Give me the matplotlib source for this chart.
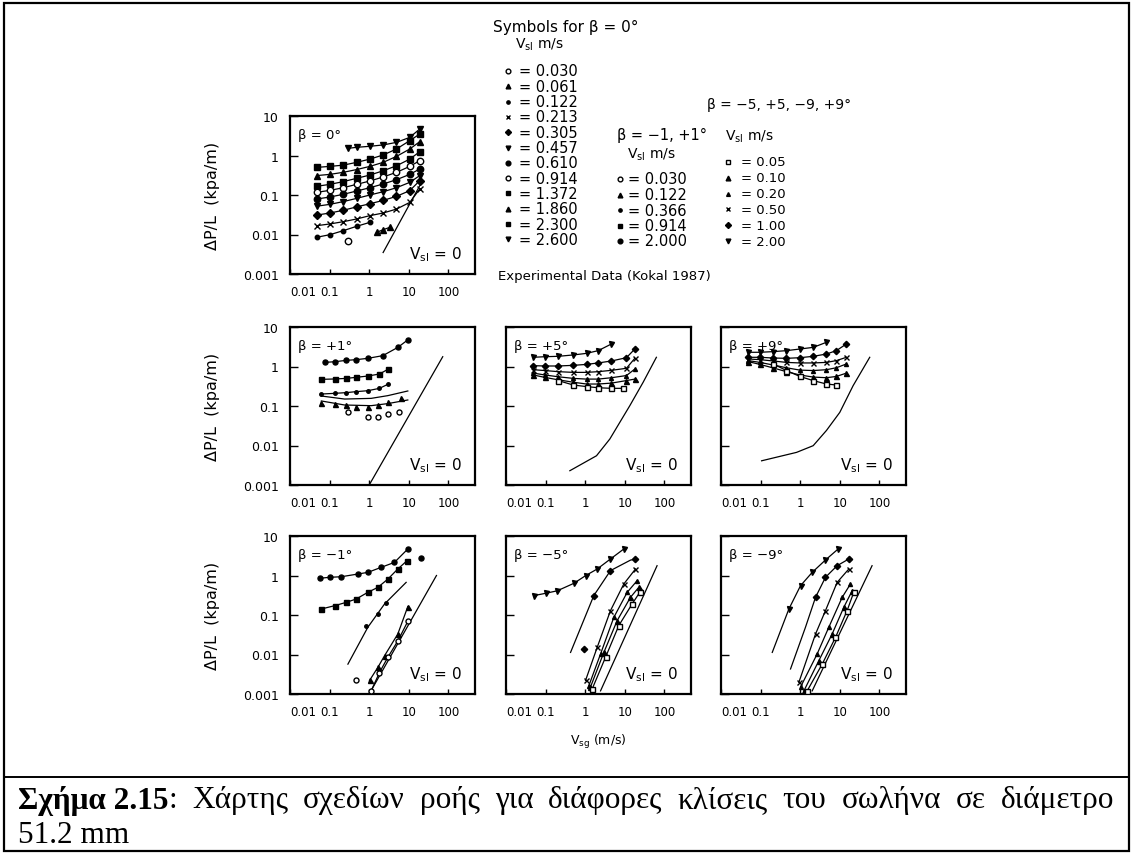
import matplotlib
matplotlib.use('Agg')
import matplotlib.pyplot as plt
from matplotlib.ticker import FixedLocator, FixedFormatter, NullLocator
from matplotlib.patches import Rectangle

# ---- data (Vsg in m/s, dP/L in kPa/m) ----

# beta = 0 deg
b0_vsl = [2.600, 2.300, 1.860, 1.372, 0.914, 0.610, 0.457, 0.305, 0.213, 0.122, 0.061, 0.030]
b0_vsg = [[0.296, 0.48, 1.04, 2.25, 4.89, 10.6, 18.9],
          [0.047, 0.102, 0.221, 0.48, 1.04, 2.25, 4.89, 10.6, 18.9],
          [0.047, 0.102, 0.221, 0.48, 1.04, 2.25, 4.89, 10.6, 18.9],
          [0.047, 0.102, 0.221, 0.48, 1.04, 2.25, 4.89, 10.6, 18.9],
          [0.047, 0.102, 0.221, 0.48, 1.04, 2.25, 4.89, 10.6, 18.9],
          [0.047, 0.102, 0.221, 0.48, 1.04, 2.25, 4.89, 10.6, 18.9],
          [0.047, 0.102, 0.221, 0.48, 1.04, 2.25, 4.89, 10.6, 18.9],
          [0.047, 0.102, 0.221, 0.48, 1.04, 2.25, 4.89, 10.6, 18.9],
          [0.047, 0.102, 0.221, 0.48, 1.04, 2.25, 4.89, 10.6, 18.9],
          [0.047, 0.102, 0.221, 0.48, 1.04],
          [1.53, 2.25, 3.32],
          [0.296]]
b0_dpl = [[1.52, 1.61, 1.71, 1.85, 2.15, 2.88, 4.69],
          [0.50, 0.53, 0.57, 0.67, 0.81, 1.03, 1.46, 2.38, 3.50],
          [0.31, 0.333, 0.375, 0.44, 0.53, 0.67, 0.95, 1.46, 2.24],
          [0.166, 0.186, 0.218, 0.264, 0.32, 0.41, 0.55, 0.81, 1.25],
          [0.117, 0.131, 0.153, 0.186, 0.226, 0.286, 0.375, 0.53, 0.74],
          [0.079, 0.089, 0.104, 0.126, 0.153, 0.19, 0.244, 0.333, 0.455],
          [0.052, 0.058, 0.068, 0.082, 0.1, 0.121, 0.153, 0.209, 0.31],
          [0.031, 0.035, 0.041, 0.050, 0.060, 0.073, 0.0925, 0.129, 0.231],
          [0.0167, 0.0185, 0.0211, 0.0247, 0.030, 0.035, 0.044, 0.065, 0.142],
          [0.0085, 0.0099, 0.0125, 0.0161, 0.0203],
          [0.0113, 0.0132, 0.0152],
          [0.0070]]
b0_joined = [True] * 11 + [False]
b0_zero_vsg = [2.25, 18.9]
b0_zero_dpl = [0.0035, 0.172]

# beta = +1 deg
p1_vsl = [2.000, 0.914, 0.366, 0.122, 0.030]
p1_vsg = [[0.075, 0.134, 0.263, 0.47, 0.925, 2.2, 5.3, 9.4],
          [0.062, 0.134, 0.263, 0.47, 0.925, 1.82, 2.96],
          [0.062, 0.134, 0.263, 0.47, 0.925, 1.82, 2.96],
          [0.062, 0.134, 0.263, 0.47, 0.925, 1.65, 2.96, 6.41],
          [0.29, 0.925, 1.65, 2.96, 5.82]]
p1_dpl = [[1.27, 1.32, 1.43, 1.49, 1.61, 1.88, 3.05, 4.7],
          [0.473, 0.483, 0.50, 0.532, 0.574, 0.645, 0.848],
          [0.201, 0.209, 0.218, 0.231, 0.244, 0.28, 0.354],
          [0.117, 0.112, 0.106, 0.096, 0.096, 0.106, 0.124, 0.163],
          [0.069, 0.054, 0.053, 0.061, 0.069]]
p1_joined = [True, True, True, False, False]
p1_fit_vsg = [[0.062, 0.239, 1.12, 2.96, 9.44], [0.062, 0.239, 1.12, 2.96, 9.44]]
p1_fit_dpl = [[0.179, 0.150, 0.156, 0.183, 0.240], [0.134, 0.106, 0.102, 0.115, 0.142]]
p1_zero_vsg = [1.0, 72]
p1_zero_dpl = [0.001, 1.77]

# beta = +5 deg
p5_vsl = [2.00, 1.00, 0.50, 0.20, 0.10, 0.05]
p5_vsg = [[0.049, 0.096, 0.208, 0.50, 1.08, 2.13, 4.61],
          [0.049, 0.096, 0.208, 0.50, 1.08, 2.13, 4.61, 11.0, 17.9],
          [0.049, 0.096, 0.208, 0.50, 1.08, 2.13, 4.61, 11.0, 17.9],
          [0.049, 0.096, 0.208, 0.50, 1.08, 2.13, 4.61, 11.0, 17.9],
          [0.049, 0.096, 0.208, 0.50, 1.08, 2.13, 4.61, 11.0, 17.9],
          [0.208, 0.50, 1.08, 2.13, 4.61, 9.1]]
p5_dpl = [[1.71, 1.77, 1.81, 1.96, 2.15, 2.52, 3.72],
          [1.05, 1.03, 1.03, 1.07, 1.13, 1.23, 1.38, 1.67, 2.77],
          [0.83, 0.79, 0.74, 0.71, 0.71, 0.74, 0.80, 0.90, 1.61],
          [0.68, 0.61, 0.55, 0.50, 0.48, 0.48, 0.52, 0.59, 0.86],
          [0.61, 0.53, 0.46, 0.40, 0.36, 0.36, 0.38, 0.44, 0.48],
          [0.44, 0.34, 0.31, 0.29, 0.28, 0.28]]
p5_joined = [True] * 6
p5_zero_vsg = [0.41, 1.93, 4.19, 7.48, 13.4, 29.0, 62.8]
p5_zero_dpl = [0.0023, 0.0055, 0.0146, 0.0385, 0.102, 0.397, 1.71]

# beta = +9 deg
p9_vsl = [2.00, 1.00, 0.50, 0.20, 0.10, 0.05]
p9_vsg = [[0.049, 0.096, 0.208, 0.45, 0.98, 2.13, 4.61],
          [0.049, 0.096, 0.208, 0.45, 0.98, 2.13, 4.61, 8.2, 14.7],
          [0.049, 0.096, 0.208, 0.45, 0.98, 2.13, 4.61, 8.2, 14.7],
          [0.049, 0.096, 0.208, 0.45, 0.98, 2.13, 4.61, 8.2, 14.7],
          [0.049, 0.096, 0.208, 0.45, 0.98, 2.13, 4.61, 8.2, 14.7],
          [0.208, 0.45, 0.98, 2.13, 4.61, 8.2]]
p9_dpl = [[2.29, 2.29, 2.38, 2.52, 2.77, 3.05, 4.1],
          [1.71, 1.71, 1.64, 1.61, 1.67, 1.81, 2.07, 2.52, 3.72],
          [1.55, 1.49, 1.38, 1.27, 1.23, 1.23, 1.27, 1.41, 1.71],
          [1.41, 1.27, 1.09, 0.93, 0.81, 0.79, 0.83, 0.93, 1.16],
          [1.33, 1.13, 0.92, 0.74, 0.61, 0.54, 0.52, 0.56, 0.68],
          [1.16, 0.79, 0.56, 0.44, 0.36, 0.34]]
p9_joined = [True] * 6
p9_zero_vsg = [0.106, 0.81, 2.13, 4.6, 10.0, 21.7, 57]
p9_zero_dpl = [0.0041, 0.0067, 0.0099, 0.024, 0.069, 0.327, 1.71]

# beta = -1 deg
m1_vsl = [2.000, 0.914, 0.366, 0.122, 0.030, 2.000, 0.030]
m1_vsg = [[0.056, 0.1, 0.197, 0.518, 0.925, 2.01, 4.35, 9.44],
          [0.062, 0.134, 0.263, 0.47, 0.925, 1.65, 2.96, 5.28, 9.08],
          [0.84, 1.65, 2.68],
          [1.02, 1.65, 2.44, 5.28, 9.44],
          [1.12, 1.82, 2.96, 5.28, 9.44],
          [20.5],
          [0.47]]
m1_dpl = [[0.85, 0.90, 0.93, 1.09, 1.20, 1.61, 2.15, 4.69],
          [0.142, 0.172, 0.209, 0.254, 0.375, 0.50, 0.81, 1.46, 2.38],
          [0.054, 0.106, 0.197],
          [0.0022, 0.0047, 0.0093, 0.033, 0.163],
          [0.0012, 0.0035, 0.0085, 0.022, 0.069],
          [2.77],
          [0.0022]]
m1_joined = [True, True, False, True, True, False, False]
m1_fit_vsg = [[0.29, 0.925, 2.44, 8.57]]
m1_fit_dpl = [[0.0057, 0.049, 0.19, 0.67]]
m1_zero_vsg = [1.0, 50]
m1_zero_dpl = [0.001, 1.0]

# beta = -5 deg
m5_vsl = [2.00, 1.00, 0.50, 0.20, 0.10, 0.05, 1.00]
m5_vsg = [[0.051, 0.1, 0.197, 0.518, 1.02, 2.01, 4.35, 9.44],
          [1.65, 4.35, 18.6],
          [1.02, 2.01, 4.35, 9.44, 18.6],
          [1.24, 2.44, 5.28, 11.5, 20.5],
          [1.36, 2.96, 6.41, 13.9, 22.5],
          [1.50, 3.26, 7.06, 15.3, 23.9],
          [0.925]]
m5_dpl = [[0.31, 0.354, 0.41, 0.634, 0.99, 1.46, 2.62, 4.69],
          [0.31, 1.33, 2.62],
          [0.0022, 0.0152, 0.129, 0.61, 1.46],
          [0.00163, 0.0103, 0.087, 0.375, 0.74],
          [0.0015, 0.0113, 0.072, 0.28, 0.50],
          [0.00134, 0.0085, 0.054, 0.19, 0.375],
          [0.0138]]
m5_joined = [True, False, True, True, True, True, False]
m5_fit_vsg = [[0.427, 1.65, 4.35, 13.9, 18.6]]
m5_fit_dpl = [[0.0113, 0.31, 1.33, 2.45, 2.62]]
m5_zero_vsg = [2.44, 65.3]
m5_zero_dpl = [0.0012, 1.77]

# beta = -9 deg
m9_vsl = [2.00, 1.00, 0.50, 0.20, 0.10, 0.05]
m9_vsg = [[0.518, 1.02, 2.01, 4.35, 9.08],
          [2.44, 4.35, 8.57, 16.9],
          [0.925, 2.44, 4.35, 8.57, 16.9],
          [1.02, 2.68, 5.28, 11.5, 18.6],
          [1.24, 2.96, 6.41, 12.6, 20.5],
          [1.50, 3.59, 7.78, 15.3, 22.5]]
m9_dpl = [[0.142, 0.553, 1.20, 2.47, 4.69],
          [0.28, 0.90, 1.77, 2.62],
          [0.00197, 0.033, 0.129, 0.67, 1.46],
          [0.0015, 0.0103, 0.049, 0.28, 0.61],
          [0.0012, 0.0070, 0.033, 0.156, 0.41],
          [0.0012, 0.0057, 0.027, 0.129, 0.375]]
m9_joined = [False, False, True, True, True, True]
m9_fit_vsg = [[0.197, 0.518, 1.02, 2.01, 4.35, 9.08], [0.57, 1.36, 2.44, 4.35, 8.57, 16.9]]
m9_fit_dpl = [[0.0113, 0.142, 0.553, 1.20, 2.47, 4.69], [0.0043, 0.049, 0.28, 0.90, 1.77, 2.62]]
m9_zero_vsg = [2.01, 65.3]
m9_zero_dpl = [0.0012, 1.77]

# legend keys
leg0_vsl = ['0.030', '0.061', '0.122', '0.213', '0.305', '0.457', '0.610', '0.914', '1.372', '1.860', '2.300', '2.600']
leg1_vsl = ['0.030', '0.122', '0.366', '0.914', '2.000']
leg5_vsl = ['0.05', '0.10', '0.20', '0.50', '1.00', '2.00']

x_ticks = [0.01, 0.1, 1, 10, 100]
x_labels = ['0.01', '0.1', '1', '10', '100']
y_ticks = [0.001, 0.01, 0.1, 1, 10]
y_labels = ['0.001', '0.01', '0.1', '1', '10']

# marker style per Vsl: (marker, filled, relative size)
sty0 = {'0.030': ('o', False, 1.0), '0.061': ('^', True, 1.0), '0.122': ('o', True, 0.7),
        '0.213': ('x', True, 1.0), '0.305': ('D', True, 0.9), '0.457': ('v', True, 1.0),
        '0.610': ('o', True, 1.0), '0.914': ('o', False, 1.0), '1.372': ('s', True, 1.0),
        '1.860': ('^', True, 1.0), '2.300': ('s', True, 0.9), '2.600': ('v', True, 1.0)}
sty1 = {'0.030': ('o', False, 1.0), '0.122': ('^', True, 1.0), '0.366': ('o', True, 0.7),
        '0.914': ('s', True, 1.0), '2.000': ('o', True, 1.0)}
sty5 = {'0.05': ('s', False, 1.0), '0.10': ('^', True, 1.0), '0.20': ('^', True, 0.8),
        '0.50': ('x', True, 1.0), '1.00': ('D', True, 0.9), '2.00': ('v', True, 1.0)}

plt.rcParams['font.family'] = ['DejaVu Sans']
plt.rcParams['mathtext.fontset'] = 'dejavusans'

W, H = 1133, 854
fig = plt.figure(figsize=(W / 100, H / 100), dpi=100)
fig.patch.set_facecolor('white')

# overlay in pixel coordinates for frame, legends and caption
ov = fig.add_axes([0, 0, 1, 1])
ov.set_xlim(0, W)
ov.set_ylim(H, 0)
ov.axis('off')


def mark(ax, x, y, style, ms):
    m, filled, rel = style
    ax.plot(x, y, linestyle='none', marker=m, ms=ms * rel,
            mfc='black' if filled else 'white', mec='black', mew=1.0, zorder=3)


def key(v, sty, nd):
    return sty['%.*f' % (nd, v)]


def panel(col, row, vsl, vsg, dpl, joined, sty, nd, zero_x, zero_y, beta,
          fit_x=(), fit_y=(), ms=3.6, ylab=False):
    lefts = [290, 506, 721]
    tops = [117, 328, 537]
    ax = fig.add_axes([lefts[col] / W, 1 - (tops[row] + 158) / H, 185 / W, 158 / H])
    ax.set_xscale('log')
    ax.set_yscale('log')
    ax.set_xlim(0.01, 470)
    ax.set_ylim(0.001, 10)
    for k in range(len(vsg)):
        if joined[k]:
            ax.plot(vsg[k], dpl[k], color='black', lw=0.9, zorder=2)
        mark(ax, vsg[k], dpl[k], key(vsl[k], sty, nd), ms)
    for fx, fy in zip(fit_x, fit_y):
        ax.plot(fx, fy, color='black', lw=0.9, zorder=2)
    ax.plot(zero_x, zero_y, color='black', lw=0.9, zorder=2)

    ax.xaxis.set_major_locator(FixedLocator(x_ticks))
    ax.xaxis.set_major_formatter(FixedFormatter(x_labels))
    ax.yaxis.set_major_locator(FixedLocator(y_ticks))
    ax.xaxis.set_minor_locator(NullLocator())
    ax.yaxis.set_minor_locator(NullLocator())
    if ylab:
        ax.yaxis.set_major_formatter(FixedFormatter(y_labels))
    else:
        ax.yaxis.set_major_formatter(FixedFormatter([''] * 5))
    ax.tick_params(axis='y', direction='in', length=6, width=1.0, pad=8, labelsize=9)
    ax.tick_params(axis='x', direction='in', length=3.5, width=1.0, pad=8, labelsize=8.5)
    ax.get_xticklabels()[0].set_horizontalalignment('left')
    for s in ax.spines.values():
        s.set_linewidth(1.6)
    ax.set_facecolor('none')
    ax.text(0.045, 0.885, beta, transform=ax.transAxes, fontsize=9.5, ha='left', va='center')
    ax.text(0.93, 0.13, r'V$_{\rm sl}$ = 0', transform=ax.transAxes, fontsize=11,
            ha='right', va='center')
    if ylab:
        ov.text(212, tops[row] + 79, 'ΔP/L  (kpa/m)', rotation=90, ha='center', va='center',
                fontsize=11.5)
    return ax


panel(0, 0, b0_vsl, b0_vsg, b0_dpl, b0_joined, sty0, 3, b0_zero_vsg, b0_zero_dpl,
      'β = 0°', ms=4.6, ylab=True)
panel(0, 1, p1_vsl, p1_vsg, p1_dpl, p1_joined, sty1, 3, p1_zero_vsg, p1_zero_dpl,
      'β = +1°', p1_fit_vsg, p1_fit_dpl, ylab=True)
panel(1, 1, p5_vsl, p5_vsg, p5_dpl, p5_joined, sty5, 2, p5_zero_vsg, p5_zero_dpl, 'β = +5°')
panel(2, 1, p9_vsl, p9_vsg, p9_dpl, p9_joined, sty5, 2, p9_zero_vsg, p9_zero_dpl, 'β = +9°')
panel(0, 2, m1_vsl, m1_vsg, m1_dpl, m1_joined, sty1, 3, m1_zero_vsg, m1_zero_dpl,
      'β = −1°', m1_fit_vsg, m1_fit_dpl, ylab=True)
panel(1, 2, m5_vsl, m5_vsg, m5_dpl, m5_joined, sty5, 2, m5_zero_vsg, m5_zero_dpl,
      'β = −5°', m5_fit_vsg, m5_fit_dpl)
panel(2, 2, m9_vsl, m9_vsg, m9_dpl, m9_joined, sty5, 2, m9_zero_vsg, m9_zero_dpl,
      'β = −9°', m9_fit_vsg, m9_fit_dpl)

ov.text(598, 742, r'V$_{\rm sg}$ (m/s)', ha='center', va='center', fontsize=9)

# legends
ov.text(493, 27, 'Symbols for β = 0°', ha='left', va='center', fontsize=11)
ov.text(515, 45, r'V$_{\rm sl}$ m/s', ha='left', va='center', fontsize=10)
for i, lab in enumerate(leg0_vsl):
    yy = 72 + i * 15.3
    mark(ov, [508], [yy], sty0[lab], 3.4)
    ov.text(519, yy, '= ' + lab, ha='left', va='center', fontsize=10.5)

ov.text(617, 135, 'β = −1, +1°', ha='left', va='center', fontsize=10.5)
ov.text(627, 155, r'V$_{\rm sl}$ m/s', ha='left', va='center', fontsize=10)
for i, lab in enumerate(leg1_vsl):
    yy = 180 + i * 15.5
    mark(ov, [620], [yy], sty1[lab], 3.4)
    ov.text(628, yy, '= ' + lab, ha='left', va='center', fontsize=10.5)

ov.text(707, 105, 'β = −5, +5, −9, +9°', ha='left', va='center', fontsize=10)
ov.text(725, 137, r'V$_{\rm sl}$ m/s', ha='left', va='center', fontsize=10)
for i, lab in enumerate(leg5_vsl):
    yy = 163 + i * 15.8
    mark(ov, [728], [yy], sty5[lab], 3.4)
    ov.text(741, yy, '= ' + lab, ha='left', va='center', fontsize=9.5)

ov.text(498, 277, 'Experimental Data (Kokal 1987)', ha='left', va='center', fontsize=9.5)

# frame and caption
ov.add_patch(Rectangle((4, 4), 1125, 848, fill=False, lw=1.6, ec='black'))
ov.plot([4, 1129], [778, 778], color='black', lw=1.4)

cap_tokens = [('Σχήμα 2.15', 'bold', False), (':', 'normal', True), ('Χάρτης', 'normal', False),
              ('σχεδίων', 'normal', False), ('ροής', 'normal', False), ('για', 'normal', False),
              ('διάφορες', 'normal', False), ('κλίσεις', 'normal', False), ('του', 'normal', False),
              ('σωλήνα', 'normal', False), ('σε', 'normal', False), ('διάμετρο', 'normal', False)]
cap_size = 22.5
renderer = fig.canvas.get_renderer()
texts, widths = [], []
for s, wgt, att in cap_tokens:
    t = ov.text(0, 801, s, fontfamily='Liberation Serif', fontweight=wgt, fontsize=cap_size,
                ha='left', va='center')
    texts.append(t)
    widths.append(t.get_window_extent(renderer).width)
n_gaps = sum(1 for tok in cap_tokens[1:] if not tok[2])
gap = (1114 - 18 - sum(widths)) / n_gaps
x = 18
for i, t in enumerate(texts):
    if i > 0 and not cap_tokens[i][2]:
        x += gap
    t.set_x(x)
    x += widths[i]
ov.text(18, 836, '51.2 mm', fontfamily='Liberation Serif', fontsize=cap_size, ha='left', va='center')

fig.savefig('out.png', dpi=100, facecolor='white')
